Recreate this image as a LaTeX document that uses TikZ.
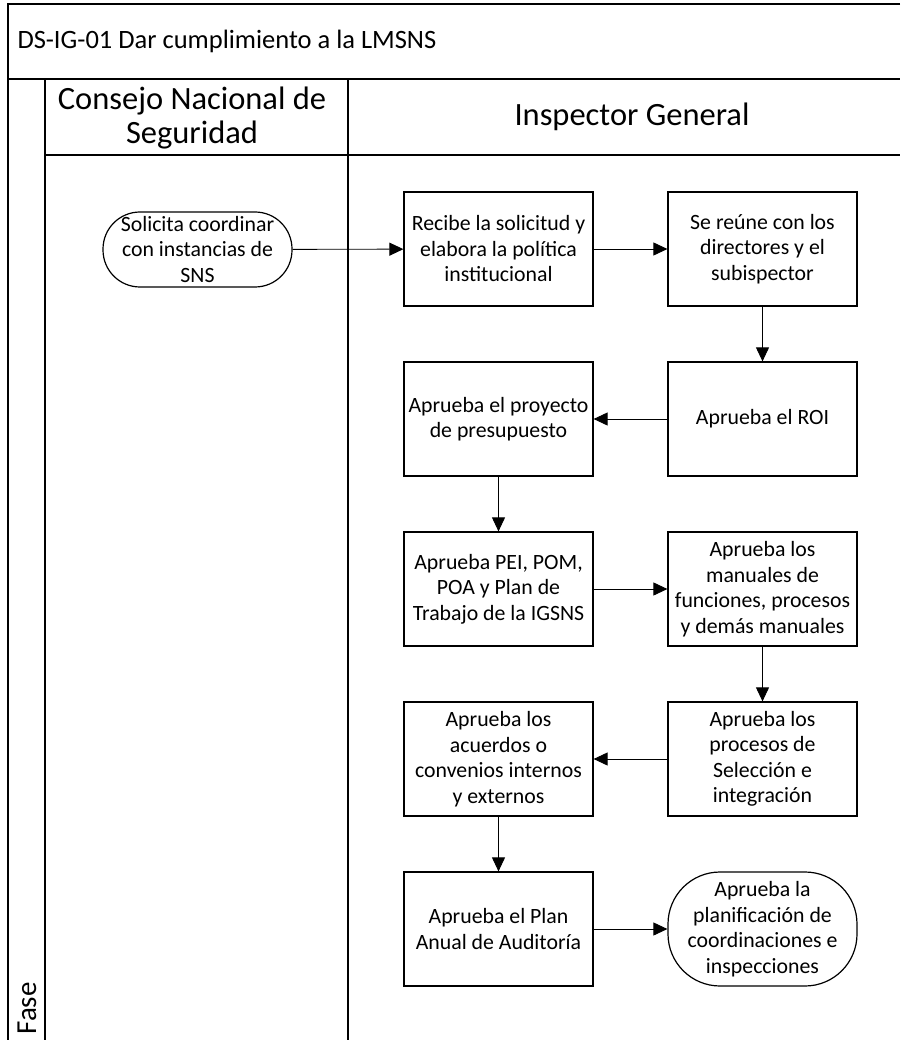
\documentclass[tikz,border=0pt]{standalone}
\usepackage{fontspec}
\setmainfont{Carlito}
\usepackage{tikz}
\usetikzlibrary{arrows.meta}
\tikzstyle{frame}=[line width=1.6pt]
\tikzstyle{proc}=[draw,line width=1.2pt,minimum width=189pt,minimum height=114pt,align=center,inner sep=2pt,font=\fontsize{21.8}{25.5}\selectfont]
\tikzstyle{term}=[proc,rounded corners=52pt]
\tikzstyle{flow}=[line width=0.9pt,-{Triangle[length=14pt,width=13pt]}]
\newcommand{\lanefont}{\fontsize{32.5}{34}\selectfont}

\begin{document}
\begin{tikzpicture}[x=1pt,y=-1pt]
    \useasboundingbox (0,0) rectangle (900,1040);
    % pool and lanes
    \draw[frame] (900,4) -- (8,4) -- (8,1040);
    \draw[frame] (8,79) -- (900,79);
    \draw[frame] (45,155) -- (900,155);
    \draw[frame] (45,79) -- (45,1040);
    \draw[frame] (348,79) -- (348,1040);
    \node[anchor=west,font=\fontsize{26.5}{30}\selectfont] (title) at (14,41) {DS-IG-01 Dar cumplimiento a la LMSNS};
    \node[align=center,font=\lanefont] (CNS) at (192,118) {Consejo Nacional de\\Seguridad};
    \node[font=\lanefont] (IG) at (632,117) {Inspector General};
    \node[rotate=90,anchor=west,font=\fontsize{29}{34}\selectfont] (fase) at (27,1038) {Fase};
    % steps
    \node[term,minimum width=189pt,minimum height=75pt,rounded corners=37pt] (S) at (197.5,249.5) {Solicita coordinar\\con instancias de\\SNS};
    \node[proc] (A1) at (498.5,249) {Recibe la solicitud y\\elabora la política\\institucional};
    \node[proc] (A2) at (762.5,249) {Se reúne con los\\directores y el\\subispector};
    \node[proc] (A3) at (762.5,419) {Aprueba el ROI};
    \node[proc] (A4) at (498.5,419) {Aprueba el proyecto\\de presupuesto};
    \node[proc] (A5) at (498.5,589) {Aprueba PEI, POM,\\POA y Plan de\\Trabajo de la IGSNS};
    \node[proc] (A6) at (762.5,589) {Aprueba los\\manuales de\\funciones, procesos\\y demás manuales};
    \node[proc] (A7) at (762.5,759) {Aprueba los\\procesos de\\Selección e\\integración};
    \node[proc] (A8) at (498.5,759) {Aprueba los\\acuerdos o\\convenios internos\\y externos};
    \node[proc] (A9) at (498.5,929) {Aprueba el Plan\\Anual de Auditoría};
    \node[term] (E) at (762.5,929) {Aprueba la\\planificación de\\coordinaciones e\\inspecciones};
    % connectors
    \draw[flow] (S) -- (A1);
    \draw[flow] (A1) -- (A2);
    \draw[flow] (A2) -- (A3);
    \draw[flow] (A3) -- (A4);
    \draw[flow] (A4) -- (A5);
    \draw[flow] (A5) -- (A6);
    \draw[flow] (A6) -- (A7);
    \draw[flow] (A7) -- (A8);
    \draw[flow] (A8) -- (A9);
    \draw[flow] (A9) -- (E);
\end{tikzpicture}
\end{document}
